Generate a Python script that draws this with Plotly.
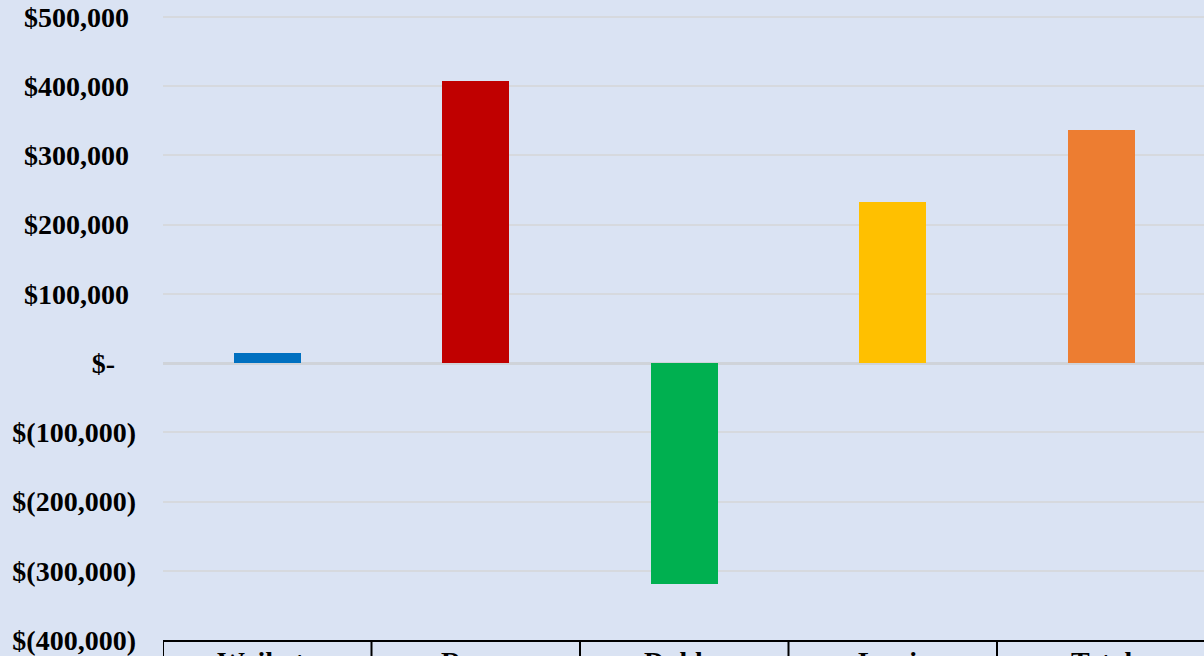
import plotly.graph_objects as go

categories = ["Waikato", "Rome", "Dubbo", "Lewis", "Total"]
values = [14500, 407500, -319000, 233000, 337000]
colors = ["#0070C0", "#C00000", "#00B050", "#FFC000", "#ED7D31"]

tick_vals = [500000, 400000, 300000, 200000, 100000, 0, -100000, -200000, -300000, -400000]
tick_text = ["$500,000", "$400,000", "$300,000", "$200,000", "$100,000", "$-",
             "$(100,000)", "$(200,000)", "$(300,000)", "$(400,000)"]
pad = {"$-": "\u00a0\u00a0\u00a0"}
tick_text = [t + (pad.get(t, "\u00a0" if "(" not in t else "")) for t in tick_text]

FONT = "Liberation Serif"
BG = "#DAE3F3"

fig = go.Figure()
fig.add_trace(go.Bar(
    x=categories, y=values, marker=dict(color=colors, line=dict(width=0)),
    width=0.32, showlegend=False,
))

px_per_unit = 69.22 / 100000
y_top = 500000 + 17 / px_per_unit

fig.update_layout(
    width=1204, height=656,
    margin=dict(l=163, r=0, t=0, b=16),
    paper_bgcolor=BG, plot_bgcolor=BG,
    font=dict(family=FONT, size=28, color="black"),
    bargap=0,
)
fig.update_xaxes(
    range=[-0.5, -0.5 + 1041 / 208.5], automargin=False,
    showgrid=False, showline=True, linecolor="black", linewidth=2,
    ticks="", showticklabels=False, zeroline=False,
)
fig.update_yaxes(
    range=[-400000, y_top], automargin=False,
    tickvals=tick_vals, ticktext=tick_text,
    tickfont=dict(family=FONT, size=28, color="black", weight="bold"),
    showgrid=True, gridcolor="#D6D9DE", gridwidth=2,
    zeroline=True, zerolinecolor="#CFD3D9", zerolinewidth=3,
    ticks="", ticklabelstandoff=26, showline=False,
)

for i, c in enumerate(categories):
    fig.add_annotation(x=c, xref="x", y=0, yref="paper", yanchor="top",
                       yshift=-4, text="<b>" + c + "</b>", showarrow=False,
                       font=dict(family=FONT, size=28, color="black"))

for i in range(len(categories) + 1):
    fig.add_shape(type="line", xref="x", yref="paper",
                  x0=i - 0.5, x1=i - 0.5, y0=0, y1=-0.2,
                  line=dict(color="black", width=2))

fig.write_html(
    "out.html",
    config={"displayModeBar": False},
    post_script="document.body.style.margin='0';document.body.style.overflow='hidden';"
                "document.body.style.background='" + BG + "';",
)
